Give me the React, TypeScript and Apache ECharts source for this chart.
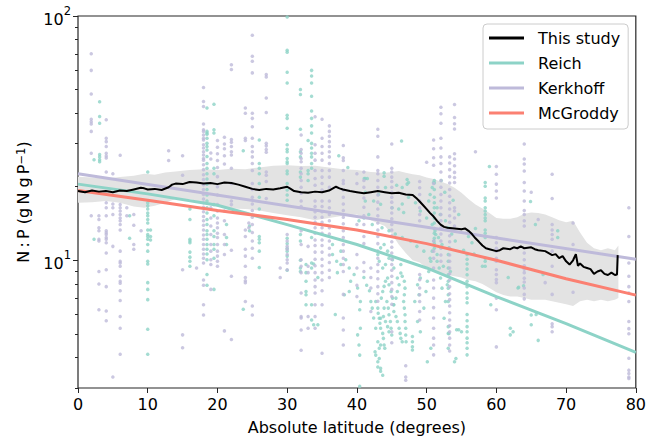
import React, { useEffect, useRef } from "react";
import * as echarts from "echarts";

// ---------- axis ticks ----------
const yTickValues = [10, 100];
const yTickBase = ["10", "10"];
const yTickExp = ["1", "2"];
const yMinorTickValues = [3, 4, 5, 6, 7, 8, 9, 20, 30, 40, 50, 60, 70, 80, 90];

// ---------- regression lines ----------
const reichLat = [0, 10, 20, 30, 40, 50, 60, 70, 80];
const reichVal = [20.5, 18.7, 16.8, 14.0, 11.6, 9.3, 7.1, 5.5, 4.2];
const kerkhoffLat = [0, 40, 80];
const kerkhoffVal = [22.6, 15.1, 10.1];
const mcgroddyLat = [0, 10, 20, 30, 40, 50, 60, 70, 80];
const mcgroddyVal = [19.3, 17.6, 16.0, 14.7, 13.3, 11.7, 10.0, 8.4, 7.2];

// ---------- this study (running median) ----------
const studyLat = [0, 1, 2, 3, 4, 5, 6, 7, 8, 9, 9.5, 10, 11, 12, 13, 13.5, 14, 15, 16, 17, 18, 19, 20, 21, 22, 23, 24, 25, 26, 27, 28, 29, 30, 30.5, 31, 32, 33, 34, 35, 36, 37, 37.5, 38, 39, 40, 41, 42, 43, 44, 45, 46, 47, 48, 48.5, 49, 49.5, 50, 50.5, 51, 51.5, 52, 52.5, 53, 54, 55, 55.5, 56, 56.5, 57, 57.5, 58, 58.5, 59, 60, 60.5, 61, 62, 62.5, 63, 63.5, 64, 65, 65.5, 66, 67, 67.5, 68, 68.5, 69, 69.5, 70, 70.5, 71, 71.4, 71.7, 72, 72.5, 73, 73.5, 74, 74.5, 75, 75.5, 76, 76.5, 77, 77.3, 77.4];
const studyVal = [19.2, 19.0, 19.3, 19.1, 19.2, 19.0, 19.3, 19.2, 19.5, 19.8, 19.7, 19.5, 19.6, 19.4, 19.9, 20.4, 20.6, 20.5, 20.9, 20.8, 20.6, 20.7, 20.5, 20.8, 20.7, 20.4, 20.0, 19.6, 19.4, 19.6, 19.5, 19.7, 20.0, 19.6, 19.2, 19.0, 18.9, 19.1, 19.0, 19.3, 20.0, 19.7, 19.5, 19.2, 19.0, 18.8, 19.0, 19.2, 19.0, 18.8, 18.9, 18.6, 18.5, 18.0, 17.4, 16.8, 16.2, 15.6, 15.1, 14.5, 14.0, 13.7, 13.6, 13.5, 13.4, 13.5, 13.2, 12.8, 12.3, 11.9, 11.5, 11.2, 11.1, 10.9, 11.0, 11.2, 11.1, 11.3, 11.2, 11.4, 11.2, 11.3, 11.1, 11.0, 10.9, 10.7, 10.5, 10.6, 10.2, 10.4, 9.9, 9.6, 10.0, 10.6, 9.5, 9.7, 9.4, 9.3, 9.2, 8.8, 9.0, 9.1, 8.8, 8.7, 8.9, 8.7, 8.75, 10.5];

// ---------- uncertainty band ----------
const bandLat = [0, 2, 4, 6, 8, 9.5, 11, 12.5, 14, 16, 18, 20, 22, 24, 26, 28, 30, 32, 34, 36, 38, 40, 42, 44, 45, 46, 47, 48, 49, 50, 51, 52, 53, 54, 55, 56, 57, 58, 59, 60, 61, 62, 63, 64, 65, 66, 67, 68, 69, 70, 71, 72, 73, 74, 75, 76, 77, 77.5];
const bandUpper = [22.0, 21.8, 21.6, 21.9, 22.2, 22.6, 22.4, 22.9, 23.1, 23.4, 23.6, 23.4, 23.7, 23.6, 24.0, 24.4, 24.5, 24.3, 24.4, 24.0, 23.6, 23.4, 23.0, 22.8, 23.0, 23.2, 22.8, 22.5, 22.3, 21.8, 21.5, 21.0, 20.5, 19.8, 18.9, 17.8, 16.9, 16.3, 15.6, 14.9, 14.8, 14.8, 15.0, 15.5, 15.7, 15.6, 15.4, 15.0, 14.6, 14.3, 14.5, 13.0, 11.8, 11.2, 11.0, 11.2, 11.0, 11.5];
const bandLower = [17.2, 17.3, 17.5, 17.2, 16.6, 16.4, 16.7, 17.2, 17.8, 17.8, 17.2, 16.6, 16.3, 16.2, 16.0, 15.6, 15.3, 15.0, 14.6, 14.9, 15.2, 15.4, 14.6, 13.8, 12.8, 11.6, 10.7, 10.0, 9.8, 9.3, 9.0, 8.8, 8.7, 8.6, 8.5, 8.3, 8.2, 8.0, 7.7, 7.4, 7.2, 7.1, 7.1, 7.0, 6.9, 6.9, 6.9, 6.8, 6.7, 6.6, 6.5, 6.8, 6.9, 6.8, 6.9, 6.8, 6.9, 7.0];

// ---------- observations (latitude, N:P values) ----------
const tealColumns: [number, number[]][] = [
  [2.3, [25.8, 12.2]],
  [3.1, [44.6, 38.8, 36.4, 27.1, 26.5, 25.8, 25.3]],
  [7.4, [15.2, 12.3]],
  [10.0, [23.0, 17.2, 16.7, 16.2, 15.6, 15.2, 14.7, 14.2, 13.3, 12.75, 12.5, 12.2, 11.6, 10.9, 9.9, 9.65, 8.1, 7.6, 6.9, 5.22, 4.12]],
  [10.4, [13.3, 12.5, 12.1]],
  [16.05, [16.2, 14.7, 12.2, 12.0, 11.8, 10.8, 10.3, 9.9, 9.45]],
  [18.5, [42.0, 33.7, 33.2, 32.8, 31.6, 30.1, 29.2, 28.3, 26.6, 24.9, 23.8, 22.6, 21.5, 20.5, 19.5, 18.5, 17.5, 16.4, 15.6, 14.7, 14.0, 13.2, 12.75, 12.2, 11.6, 11.1, 10.6, 10.05, 8.75, 7.9]],
  [19.5, [43.5, 34.2, 33.2, 23.8, 22.6, 16.9, 15.2, 13.2, 12.5, 11.6, 11.1, 10.2, 7.6]],
  [21.3, [14.0, 12.4, 11.6]],
  [23.7, [28.1, 6.3]],
  [24.6, [13.8, 13.2]],
  [26.0, [31.1, 24.9, 23.8, 22.6, 20.6, 18.1, 16.2, 12.5, 12.2, 11.8, 10.9, 9.35]],
  [30.0, [99, 72.4, 71.1, 58.8, 53.2, 39.2, 38.1, 34.7, 29.7, 28.5, 27.8, 26.1, 25.3, 24.9, 23.2, 22.6, 20.6, 19.4, 18.5, 17.6, 12.3, 11.7, 11.2, 10.9, 10.4, 9.1]],
  [31.9, [50, 47.7, 34.4, 27.8, 26.5, 23.0, 21.9, 12.75, 12.0, 10.0, 9.3, 9.0]],
  [32.7, [9.6, 8.9, 8.2, 7.45, 7.22, 6.57]],
  [33.0, [30.9, 23.3, 22.6, 21.2]],
  [33.5, [59.9, 56.8, 53.2, 46.9, 40.8, 38.1, 35.5, 33.2, 30.1, 28.8, 27.4, 26.5, 24.9, 23.8, 12.4, 9.75, 9.3, 6.57, 5.7]],
  [33.8, [9.65, 5.45]],
  [34.4, [8.5, 5.45]],
  [41.2, [21.6, 19.0, 17.5]],
  [51.1, [21.2, 20.7, 19.5, 18.1, 17.2, 16.4, 15.6, 14.9, 14.2, 13.5, 12.9, 12.3, 11.7, 11.2]],
  [53.1, [10.55, 9.9, 9.3, 8.73, 8.2, 7.69, 7.22, 6.78, 5.35, 5.02, 4.36]],
  [55.8, [10.55, 10.1, 9.65, 9.2, 8.73, 8.2, 7.8, 7.35, 7.0, 6.7, 6.0, 5.65, 5.35, 5.1, 4.8, 4.6, 4.36, 4.1]],
  [58.4, [20.8, 20.1, 18.0, 17.5, 16.4, 15.9, 15.4, 14.9, 14.5, 13.3, 12.9, 12.4, 10.2, 9.9, 9.45]],
  [59.0, [24.2]],
  [68.8, [13.2, 12.4]],
];

const tealPoints: [number, number][] = [
  [36.5, 11.6], [36.5, 10.55], [36.9, 6.0], [37.7, 9.6], [38.4, 10.05], [38.9, 9.3], [39.1, 8.2], [39.6, 8.75],
  [40.1, 7.7], [40.4, 6.27], [40.5, 6.78], [41.0, 8.5], [41.4, 7.9], [41.8, 7.5], [42.0, 6.78], [42.2, 6.37],
  [42.4, 5.8], [42.7, 5.27], [38.2, 7.22], [38.9, 7.45], [37.7, 10.9], [37.1, 9.9], [37.2, 8.9], [40.5, 5.27],
  [40.1, 4.95], [40.3, 4.5], [40.4, 4.09], [40.4, 3.05], [37.4, 26.8], [38.7, 24.0],
  [42.7, 6.78], [43.0, 6.37], [43.05, 6.07], [43.2, 5.79], [43.3, 5.52], [43.4, 5.27], [43.7, 5.02], [43.8, 4.79],
  [43.9, 4.5], [44.0, 4.36], [43.4, 4.5], [43.2, 4.36], [43.0, 4.64], [43.5, 7.0], [43.7, 7.45], [43.9, 7.82],
  [44.1, 8.2], [44.4, 8.46], [44.6, 7.94], [44.9, 7.45], [45.1, 7.0], [45.24, 6.57], [45.3, 6.17], [45.6, 5.88],
  [45.8, 5.61], [46.05, 5.27], [46.2, 5.02], [46.3, 4.79], [46.5, 4.64], [46.7, 6.78], [46.8, 7.22], [46.9, 7.69],
  [46.8, 8.2], [46.5, 8.6], [46.3, 8.87], [46.05, 7.94], [45.8, 7.45], [45.6, 7.0], [45.3, 6.57], [44.3, 6.78],
  [44.5, 6.37], [44.6, 5.98], [44.8, 5.61], [44.9, 5.27], [45.0, 4.94], [44.4, 10.9], [44.6, 10.2], [44.1, 9.6],
  [43.7, 9.3], [43.2, 9.9], [43.0, 10.55], [43.4, 11.24], [43.9, 11.6], [45.1, 10.06], [45.3, 9.3], [45.8, 8.46],
  [46.3, 9.6], [43.0, 3.84], [43.2, 3.96], [43.4, 3.61], [43.7, 3.38], [46.8, 6.37], [46.9, 5.98], [46.9, 5.61],
  [47.0, 5.27], [47.0, 4.94], [47.05, 4.64], [43.4, 5.79], [43.8, 5.88], [44.1, 5.61], [44.4, 5.35], [44.6, 5.1],
  [43.9, 6.37], [42.6, 4.22], [42.7, 4.09], [43.0, 3.66], [43.4, 3.51],
  [47.96, 4.87], [47.96, 4.64], [47.96, 4.43], [47.96, 4.29], [48.3, 6.78], [48.7, 7.94], [48.9, 7.22], [49.1, 8.46],
  [49.6, 6.37], [49.9, 7.45], [50.1, 8.2], [50.3, 9.0], [50.6, 9.9], [50.8, 10.9], [51.05, 12.0], [51.3, 12.75],
  [51.5, 10.55], [51.8, 9.3], [52.0, 8.46], [52.2, 7.69], [52.5, 5.79], [52.7, 6.78], [52.96, 7.94], [53.2, 11.24],
  [50.1, 3.84], [50.6, 4.36], [48.7, 5.61], [49.1, 5.1],
  [46.5, 19.85], [47.2, 20.5], [47.4, 20.8], [44.1, 19.85], [43.1, 18.6], [42.4, 17.5], [43.4, 16.95], [45.05, 16.4],
  [46.0, 16.2], [46.7, 15.7], [47.4, 18.1], [48.4, 17.2], [49.1, 15.9], [50.0, 14.9], [50.8, 14.0], [51.2, 13.2],
  [51.7, 12.4], [52.2, 11.6], [51.0, 20.8], [50.8, 19.85], [50.5, 18.6], [50.3, 17.5], [51.5, 16.4], [51.96, 15.4],
  [52.7, 14.5], [53.1, 13.6], [53.6, 12.8], [54.1, 12.0], [41.7, 15.4], [41.0, 14.9], [40.3, 14.5], [42.2, 14.0],
  [43.6, 13.6], [44.6, 13.2], [45.5, 12.8], [46.5, 12.4], [47.7, 12.0], [48.6, 11.4], [49.6, 10.9], [50.5, 10.2],
  [51.5, 9.9], [52.4, 9.45], [53.4, 9.0],
  [41.05, 21.6], [41.5, 21.6], [43.9, 22.8], [43.9, 22.1], [46.4, 30.8], [45.7, 20.3], [47.2, 21.4], [46.5, 17.0],
  [52.1, 21.2], [52.6, 19.0], [53.8, 17.6], [54.6, 15.4], [55.3, 11.0], [56.0, 12.5], [56.5, 11.8], [57.0, 13.5],
  [56.8, 10.6], [54.3, 5.2], [54.6, 5.2], [55.0, 5.1], [54.0, 3.84], [54.2, 3.96], [53.2, 5.02],
  [58.0, 9.45], [59.2, 6.57], [61.7, 8.5], [63.1, 7.7], [63.9, 7.86], [63.2, 7.75], [64.9, 17.4], [65.6, 14.0],
  [66.7, 8.75], [62.0, 5.27], [62.0, 4.95], [62.4, 5.1], [65.0, 5.97], [65.0, 5.45], [65.7, 6.0], [66.0, 4.7],
];

const lavenderColumns: [number, number[]][] = [
  [1.9, [70, 59.9, 47.9, 37.8, 36.9, 36.1, 33.7, 27.4, 15.2]],
  [3.0, [15.2, 14.7, 13.6, 13.2, 12.2, 12.0, 9.0, 8.0, 6.27]],
  [4.05, [37.6, 31.6, 30.6, 29.2, 27.4, 26.7, 26.2, 23.0, 17.2, 16.4, 15.2, 13.2, 12.95, 12.75, 12.4, 12.2, 11.8, 10.7, 9.15, 7.8, 6.2, 5.65]],
  [5.0, [22.6, 17.0, 16.4, 15.4, 11.4, 3.33]],
  [6.05, [26.9, 16.9, 16.4, 15.9, 15.4, 14.9, 14.5, 14.0, 13.3, 10.9, 9.9, 9.75, 9.45, 8.6, 8.2, 8.05, 7.5, 6.85, 5.88, 5.27, 4.12]],
  [7.0, [16.4, 15.2]],
  [8.0, [15.4, 13.9, 11.6, 11.1]],
  [9.05, [13.2]],
  [13.0, [28.1, 25.6]],
  [15.0, [26.8, 22.3, 9.15, 4.95, 4.38]],
  [17.0, [9.3]],
  [18.0, [51.0, 44.7, 42.6, 36.1, 34.2, 33.7, 32.6, 31.6, 31.1, 29.7, 28.8, 27.8, 27.0, 26.1, 25.7, 24.6, 23.5, 22.4, 21.4, 20.4, 19.5, 18.6, 17.8, 17.2, 16.5, 15.8, 15.1, 14.5, 13.9, 13.3, 12.7, 12.2, 11.6, 11.1, 10.6, 10.2, 9.75, 8.3, 7.9, 6.57, 5.97]],
  [19.05, [27.5, 26.0, 16.4, 14.9, 13.8, 12.75, 11.6, 10.9, 10.05, 9.6, 7.6]],
  [20.0, [30.9, 29.0, 27.3, 25.6, 24.0, 22.0, 20.0, 18.5, 16.9, 15.9, 14.9, 14.2, 13.6, 12.9, 12.4, 11.6, 10.9, 10.4, 9.9, 9.45]],
  [21.0, [31.9, 29.9, 28.6, 26.8, 24.8, 15.9, 14.5, 12.75, 11.6, 10.55, 5.14]],
  [22.0, [63.2, 60.4, 31.2, 30.4, 29.2, 27.8, 27.0, 23.8, 20.6, 17.5, 16.9, 11.0, 8.6, 4.74]],
  [24.0, [42, 40, 31.6, 30.9, 13.3, 12.5, 11.1, 10.4, 9.45, 8.5, 8.25, 8.1, 6.78]],
  [24.5, [14.2, 13.6]],
  [25.0, [83.4, 68.4, 65.3, 58.5, 40, 38.1, 35.2, 31.6, 29.2, 27.8, 26.5, 24.9, 23.3, 20.6, 19.5, 18.1, 17.0, 16.0, 15.0, 14.0, 13.0, 12.0, 11.2, 10.2, 6.5, 5.97]],
  [27.0, [57.6, 56.3, 46.2, 40.3, 30.1, 29.4, 28.4, 27.7, 23.0, 22.3, 21.0, 17.9]],
  [29.0, [9.3, 8.5]],
  [30.0, [12.75, 12.0, 11.4, 11.1, 10.55, 10.05, 9.75, 9.15]],
  [32.0, [32.6, 28.4, 27.4, 26.1, 25.3, 23.8, 22.6, 21.2, 19.9, 18.8, 17.5, 16.6, 13.2, 11.6, 10.05, 9.45, 8.9, 7.35, 5.88, 5.8, 5.18, 4.28]],
  [33.0, [11.4, 9.45, 8.9, 5.88, 5.27]],
  [34.0, [38.7, 29.7, 27.4, 25.7, 23.3, 21.6, 20.3, 17.5, 16.6, 15.8, 15.0, 14.3, 13.6, 12.9, 12.1, 11.5, 10.8, 10.1, 9.5, 8.9, 8.3, 7.8, 7.35, 6.57, 5.88, 5.27]],
  [35.0, [37.8, 31.6, 29.2, 27.4, 25.7, 23.3, 21.9, 20.6, 19.4, 17.5, 16.6, 15.8, 15.0, 14.3, 13.6, 12.9, 12.1, 11.5, 10.8, 10.1, 9.5, 8.9, 8.3, 7.5, 6.57, 4.16]],
  [36.05, [35.5, 33.7, 32.2, 30.6, 29.2, 27.8, 26.5, 24.9, 23.3, 21.9, 19.9, 17.5, 16.4, 15.4, 14.5, 13.6, 12.8, 12.0, 11.2, 10.5, 9.8, 9.1, 8.5]],
  [38.05, [29.5, 26.3, 25.6, 23.3, 21.2, 20.6, 19.4, 18.1, 17.0, 16.0, 15.0, 14.1, 13.2, 12.4, 11.6, 10.9, 10.2, 9.6, 9.0, 7.25, 5.8, 5.18, 4.5]],
  [40.0, [22.6, 20.6, 14.0, 10.55, 9.3, 7.9, 7.1]],
  [41.0, [23.0, 21.2, 19.9, 18.0, 16.5, 15.2, 14.0, 12.5, 11.7, 9.8, 9.0]],
  [42.0, [9.3, 8.5, 7.7, 6.17]],
  [43.0, [34.4, 32.2, 26.5, 23.3, 22.6, 21.2, 19.9, 18.5, 17.3, 16.2, 15.2, 14.2, 13.3, 12.5, 11.7, 10.9, 10.2, 9.6, 9.0, 8.4, 7.8, 7.3, 6.8]],
  [45.0, [29.9, 23.8, 23.0, 21.9, 21.0, 19.9, 19.0, 18.1, 17.3, 16.4, 15.6, 14.8, 14.0, 13.3, 12.6, 11.9, 11.3, 10.7, 10.1, 9.6, 9.1, 8.6, 8.1, 7.6, 7.1, 6.6, 5.1, 4.6]],
  [47.0, [3.7, 3.33, 3.23]],
  [49.0, [21.0, 19.8, 18.6, 17.5, 16.4, 15.4, 14.5, 8.75, 8.33, 7.7, 7.22, 6.78, 6.17, 5.7]],
  [50.0, [25.2]],
  [51.0, [31.1, 28.6, 26.3, 24.5, 20.6, 12.0, 10.9, 10.2, 9.3, 8.3, 7.7, 7.0, 6.4, 5.8, 5.27, 4.8, 4.5, 4.1]],
  [52.05, [42.3, 39.8, 36.4, 31.6, 28.8, 26.5, 24.9, 23.0, 21.2, 19.9, 18.6, 17.5, 16.4, 15.4, 14.5, 13.6, 12.8, 12.0, 11.2, 10.5, 9.9]],
  [53.3, [26.5, 25.0, 23.5, 22.0, 20.7, 19.5, 18.3, 17.2, 16.2, 15.2, 14.3, 13.4, 12.6, 11.9, 11.2, 10.5, 9.9, 9.3, 8.8, 8.3, 7.8, 7.3, 6.9, 6.5, 6.1, 5.7, 5.4, 5.1, 4.8, 4.5, 4.25]],
  [54.0, [43.4, 38.4, 36.2, 34.5, 27.3, 26.0, 24.4, 22.9, 21.8, 20.8, 16.4, 15.9, 14.9, 13.8]],
  [57.0, [27.8]],
  [60.0, [24.2, 22.5, 20.5, 19.2, 18.0, 12.4, 11.8, 11.2, 10.9, 10.2, 9.9, 9.15, 8.75, 8.35, 8.1, 7.0, 6.27, 4.42]],
  [64.0, [29.9, 26.0, 24.8, 23.2, 20.8, 19.2, 17.5, 16.0, 15.4, 14.5, 13.8, 10.7, 10.05, 9.5, 9.2, 8.9, 8.45, 8.15, 7.7, 7.25, 6.95]],
  [65.0, [19.0]],
  [66.0, [14.7]],
  [67.0, [8.1]],
  [68.0, [22.5, 17.9, 14.0, 13.3, 12.75, 12.2, 10.9, 9.45, 7.25, 5.5, 5.35, 5.1]],
  [71.0, [14.2, 11.6, 7.4]],
  [79.0, [16.4, 12.5, 9.75, 8.6, 7.8, 7.35, 6.78, 5.61, 5.25, 5.0, 3.97, 3.55, 3.44, 3.33, 3.28]],
];

const FONT = "'DejaVu Sans', 'Liberation Sans', sans-serif";
const TEAL = "#8dd3c7";
const LAVENDER = "#bebada";
const SALMON = "#fb8072";
const FRAME = "#262626";

const columnsToPoints = (cols: [number, number[]][]) =>
  cols.flatMap(([lat, vals]) => vals.map((v) => [lat, v]));

const pairs = (xs: number[], ys: number[]) => xs.map((x, i) => [x, ys[i]]);

export default function App() {
  const ref = useRef<HTMLDivElement>(null);

  useEffect(() => {
    if (!ref.current) return;
    const chart = echarts.init(ref.current, null, { renderer: "svg" });

    const tickLine = { color: FRAME, width: 1 };

    const option: any = {
      animation: false,
      backgroundColor: "#ffffff",
      grid: {
        left: 78,
        top: 16,
        right: 11,
        bottom: 53,
        show: true,
        borderColor: FRAME,
        borderWidth: 1.2,
        backgroundColor: "transparent",
      },
      legend: {
        data: ["This study", "Reich", "Kerkhoff", "McGroddy"],
        orient: "vertical",
        left: 483,
        top: 24,
        icon: "rect",
        itemWidth: 35,
        itemHeight: 3,
        itemGap: 9,
        padding: [6, 8, 8, 6],
        borderColor: "#cccccc",
        borderWidth: 1,
        borderRadius: 4,
        backgroundColor: "rgba(255,255,255,0.8)",
        textStyle: {
          fontFamily: FONT,
          fontSize: 16,
          color: "#000",
          padding: [0, 0, 0, 9],
        },
      },
      xAxis: {
        type: "value",
        min: 0,
        max: 80,
        interval: 10,
        axisLine: { show: false },
        splitLine: { show: false },
        axisTick: { show: true, inside: false, length: 5, lineStyle: tickLine },
        axisLabel: { fontFamily: FONT, fontSize: 16, color: "#000", margin: 8 },
        name: "Absolute latitude (degrees)",
        nameLocation: "middle",
        nameGap: 31,
        nameTextStyle: { fontFamily: FONT, fontSize: 16, color: "#000" },
      },
      yAxis: [
        {
          type: "log",
          logBase: 10,
          min: 3,
          max: 100,
          position: "left",
          axisLine: { show: false },
          splitLine: { show: false },
          minorTick: { show: false },
          axisTick: {
            show: true,
            inside: false,
            length: 5,
            lineStyle: tickLine,
            customValues: yTickValues,
          },
          axisLabel: {
            customValues: yTickValues,
            color: "#000",
            margin: 7,
            formatter: (v: number) => {
              const i = yTickValues.findIndex((t) => Math.abs(t - v) / t < 1e-6);
              return i >= 0 ? `{b|${yTickBase[i]}}{s|${yTickExp[i]}}` : "";
            },
            rich: {
              b: { fontFamily: FONT, fontSize: 16, color: "#000", lineHeight: 22, verticalAlign: "bottom" },
              s: { fontFamily: FONT, fontSize: 11.5, color: "#000", lineHeight: 13, verticalAlign: "top" },
            },
          },
          name: "N\u2009:\u2009P (g\u2009N g\u2009P{s|\u22121})",
          nameLocation: "middle",
          nameGap: 47,
          nameRotate: 90,
          nameTextStyle: {
            fontFamily: FONT,
            fontSize: 16,
            color: "#000",
            rich: {
              s: { fontFamily: FONT, fontSize: 11.5, color: "#000", lineHeight: 12, verticalAlign: "top" },
            },
          },
        },
        {
          type: "log",
          logBase: 10,
          min: 3,
          max: 100,
          position: "left",
          axisLine: { show: false },
          splitLine: { show: false },
          axisLabel: { show: false },
          minorTick: { show: false },
          axisTick: {
            show: true,
            inside: false,
            length: 3,
            lineStyle: tickLine,
            customValues: yMinorTickValues,
          },
        },
      ],
      series: [
        {
          name: "band",
          type: "custom",
          z: 1,
          silent: true,
          data: pairs(bandLat, bandUpper),
          encode: { x: 0, y: 1 },
          renderItem: (params: any, api: any) => {
            if (params.dataIndex !== 0) return null;
            const pts: number[][] = [];
            for (let i = 0; i < bandLat.length; i++) pts.push(api.coord([bandLat[i], bandUpper[i]]));
            for (let i = bandLat.length - 1; i >= 0; i--) pts.push(api.coord([bandLat[i], bandLower[i]]));
            return { type: "polygon", shape: { points: pts }, style: { fill: "#e3e3e3" } };
          },
        },
        {
          name: "Reich data",
          type: "scatter",
          z: 2,
          symbolSize: 3.5,
          itemStyle: { color: TEAL },
          data: [...columnsToPoints(tealColumns), ...tealPoints],
        },
        {
          name: "Kerkhoff data",
          type: "scatter",
          z: 2,
          symbolSize: 3.5,
          itemStyle: { color: LAVENDER },
          data: columnsToPoints(lavenderColumns),
        },
        {
          name: "Reich",
          type: "line",
          z: 3,
          symbol: "none",
          lineStyle: { color: TEAL, width: 3 },
          itemStyle: { color: TEAL },
          data: pairs(reichLat, reichVal),
        },
        {
          name: "Kerkhoff",
          type: "line",
          z: 3,
          symbol: "none",
          lineStyle: { color: LAVENDER, width: 3 },
          itemStyle: { color: LAVENDER },
          data: pairs(kerkhoffLat, kerkhoffVal),
        },
        {
          name: "McGroddy",
          type: "line",
          z: 3,
          symbol: "none",
          lineStyle: { color: SALMON, width: 3 },
          itemStyle: { color: SALMON },
          data: pairs(mcgroddyLat, mcgroddyVal),
        },
        {
          name: "This study",
          type: "line",
          z: 4,
          symbol: "none",
          lineStyle: { color: "#000000", width: 2 },
          itemStyle: { color: "#000000" },
          data: pairs(studyLat, studyVal),
        },
      ],
    };

    chart.setOption(option);
    return () => chart.dispose();
  }, []);

  return (
    <div
      ref={ref}
      style={{ position: "fixed", left: 0, top: 0, width: 649, height: 441, background: "#fff" }}
    />
  );
}
